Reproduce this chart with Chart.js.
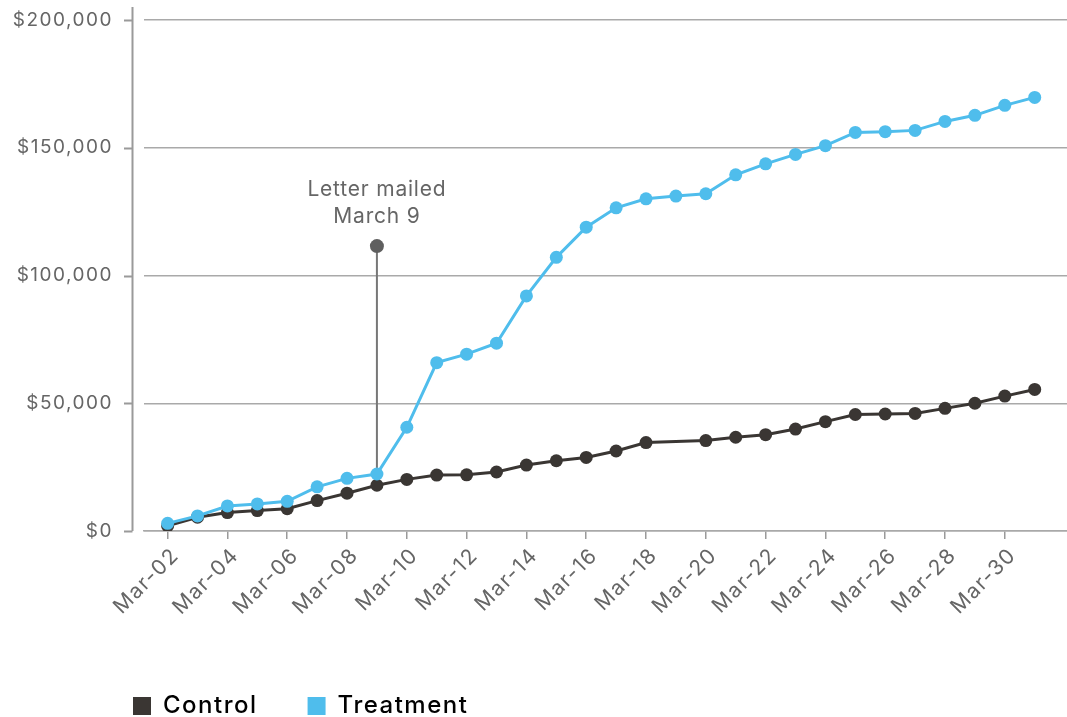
<!DOCTYPE html>
<html>
<head>
<meta charset="utf-8">
<script src="https://cdn.jsdelivr.net/npm/chart.js@4/dist/chart.umd.min.js"></script>
<style>
  html, body { margin: 0; padding: 0; background: #ffffff; }
  #wrap { width: 1067px; height: 717px; }
</style>
</head>
<body>
<div id="wrap"><canvas id="chart" width="1067" height="717"></canvas></div>
<script>
// Daily cumulative revenue, March
const categories = [
  'Mar-02','Mar-03','Mar-04','Mar-05','Mar-06','Mar-07','Mar-08','Mar-09','Mar-10','Mar-11',
  'Mar-12','Mar-13','Mar-14','Mar-15','Mar-16','Mar-17','Mar-18','Mar-19','Mar-20','Mar-21',
  'Mar-22','Mar-23','Mar-24','Mar-25','Mar-26','Mar-27','Mar-28','Mar-29','Mar-30','Mar-31'
];
const control = [
  2000, 5400, 7200, 8000, 8700, 11900, 14800, 17900, 20200, 21900,
  22000, 23100, 25800, 27500, 28800, 31300, 34600, null, 35400, 36700,
  37700, 39900, 42800, 45600, 45800, 46000, 48000, 50000, 52800, 55400
];
const treatment = [
  3000, 5900, 9800, 10600, 11600, 17300, 20600, 22300, 40600, 65900,
  69200, 73500, 92000, 107100, 118900, 126500, 130000, 131100, 132000, 139400,
  143700, 147400, 150800, 156000, 156300, 156800, 160300, 162700, 166600, 169700
];
const xTickLabels = [
  'Mar-02','Mar-04','Mar-06','Mar-08','Mar-10','Mar-12','Mar-14','Mar-16',
  'Mar-18','Mar-20','Mar-22','Mar-24','Mar-26','Mar-28','Mar-30'
];
const yTickValues = [0, 50000, 100000, 150000, 200000];
const seriesNames = ['Control', 'Treatment'];

// Mailing annotation
const noteDay = 'Mar-09';
const noteLines = ['Letter mailed', 'March 9'];
const noteTop = 111500;

const FONT = 'Inter';
const C_CONTROL = '#3a3633';
const C_TREAT = '#4fbdec';
const C_GRID = '#a9a9a9';
const C_AXIS = '#9a9a9a';
const C_TEXT = '#666666';

const noteIndex = categories.indexOf(noteDay);
const toPoints = arr => arr.map((v, i) => ({ x: i, y: v }));

// letter spacing applied to the canvas text drawn by the library
const spacing = {
  id: 'spacing',
  beforeLayout(chart) { chart.ctx.letterSpacing = '1.5px'; },
  beforeDraw(chart) { chart.ctx.letterSpacing = '1.5px'; }
};

// plot area runs to the right edge of the canvas
const fullRight = {
  id: 'fullRight',
  afterLayout(chart) {
    const ca = chart.chartArea;
    const xs = chart.scales.x;
    ca.right = chart.width;
    ca.width = ca.right - ca.left;
    xs.right = ca.right;
    xs.width = xs.right - xs.left;
    xs.configure();
  }
};

// left axis line offset from the plot, with its tick marks
const leftAxis = {
  id: 'leftAxis',
  beforeDatasetsDraw(chart) {
    const { ctx } = chart;
    const y = chart.scales.y;
    const ax = 132.5;
    ctx.save();
    ctx.strokeStyle = C_AXIS;
    ctx.lineWidth = 2;
    ctx.beginPath();
    ctx.moveTo(ax, y.getPixelForValue(200000) - 13);
    ctx.lineTo(ax, y.getPixelForValue(0));
    yTickValues.forEach(v => {
      const py = Math.round(y.getPixelForValue(v)) + 0.5;
      ctx.moveTo(124, py);
      ctx.lineTo(ax, py);
    });
    ctx.stroke();
    ctx.restore();
  }
};

// text of the mailing annotation above its marker
const noteText = {
  id: 'noteText',
  afterDatasetsDraw(chart) {
    const { ctx } = chart;
    const px = chart.scales.x.getPixelForValue(noteIndex);
    const py = chart.scales.y.getPixelForValue(noteTop);
    ctx.save();
    ctx.letterSpacing = '0.8px';
    ctx.font = '21px ' + FONT;
    ctx.fillStyle = C_TEXT;
    ctx.textAlign = 'center';
    ctx.textBaseline = 'middle';
    ctx.fillText(noteLines[0], px, py - 56);
    ctx.fillText(noteLines[1], px, py - 29);
    ctx.restore();
  }
};

// legend placed under the plot's left edge
const legendShift = {
  id: 'legendShift',
  afterLayout(chart) {
    const lg = chart.legend;
    lg.left += 83; lg.right += 83;
    lg.top += 11; lg.bottom += 11;
  }
};

new Chart(document.getElementById('chart'), {
  type: 'line',
  data: {
    datasets: [
      {
        label: seriesNames[0],
        data: toPoints(control),
        borderColor: C_CONTROL,
        backgroundColor: C_CONTROL,
        borderWidth: 3,
        pointRadius: 6.5,
        pointBorderWidth: 0,
        pointBackgroundColor: C_CONTROL,
        spanGaps: true,
        tension: 0,
        order: 2
      },
      {
        label: seriesNames[1],
        data: toPoints(treatment),
        borderColor: C_TREAT,
        backgroundColor: C_TREAT,
        borderWidth: 3,
        pointRadius: 6.5,
        pointBorderWidth: 0,
        pointBackgroundColor: C_TREAT,
        tension: 0,
        order: 1
      },
      {
        label: 'note',
        data: [{ x: noteIndex, y: noteTop }, { x: noteIndex, y: treatment[noteIndex] }],
        borderColor: '#777777',
        borderWidth: 2,
        pointRadius: [7, 0],
        pointBorderWidth: 0,
        pointBackgroundColor: '#5f5f5f',
        order: 3
      }
    ]
  },
  options: {
    responsive: false,
    animation: false,
    events: [],
    devicePixelRatio: 1,
    layout: { padding: { top: 20, right: 0, left: 0, bottom: 0 } },
    scales: {
      x: {
        type: 'linear',
        min: -0.79,
        max: 30.08,
        afterBuildTicks(scale) {
          scale.ticks = xTickLabels.map(l => ({ value: categories.indexOf(l) }));
        },
        afterFit(scale) {
          scale.height = 102;
          scale.paddingLeft = 0; scale.paddingRight = 0;
          scale.paddingTop = 0; scale.paddingBottom = 0;
        },
        ticks: {
          autoSkip: false,
          minRotation: 45,
          maxRotation: 45,
          padding: 4,
          labelOffset: 8,
          color: C_TEXT,
          font: { family: FONT, size: 21 },
          callback: v => categories[v]
        },
        grid: {
          display: true,
          drawOnChartArea: false,
          drawTicks: true,
          tickLength: 8,
          color: C_AXIS,
          lineWidth: 1.5
        },
        border: { display: true, color: C_GRID, width: 1.5 }
      },
      y: {
        min: 0,
        max: 200000,
        afterBuildTicks(scale) {
          scale.ticks = yTickValues.map(v => ({ value: v }));
        },
        afterFit(scale) {
          scale.width = 144;
          scale.paddingTop = 0; scale.paddingBottom = 0;
          scale.paddingLeft = 0; scale.paddingRight = 0;
        },
        ticks: {
          padding: 31,
          color: C_TEXT,
          font: { family: FONT, size: 19 },
          callback: v => '$' + Number(v).toLocaleString('en-US')
        },
        grid: { color: C_GRID, lineWidth: 1.5, drawTicks: false },
        border: { display: false }
      }
    },
    plugins: {
      legend: {
        position: 'bottom',
        align: 'start',
        labels: {
          boxWidth: 18,
          boxHeight: 18,
          padding: 50,
          color: '#555555',
          font: { family: FONT, size: 24, weight: '500' },
          filter: item => seriesNames.includes(item.text),
          generateLabels(chart) {
            return chart.data.datasets.map((ds, i) => ({
              text: ds.label,
              fillStyle: ds.borderColor,
              strokeStyle: ds.borderColor,
              lineWidth: 0,
              hidden: false,
              datasetIndex: i
            }));
          }
        }
      },
      tooltip: { enabled: false }
    }
  },
  plugins: [spacing, fullRight, leftAxis, noteText, legendShift]
});
</script>
</body>
</html>
